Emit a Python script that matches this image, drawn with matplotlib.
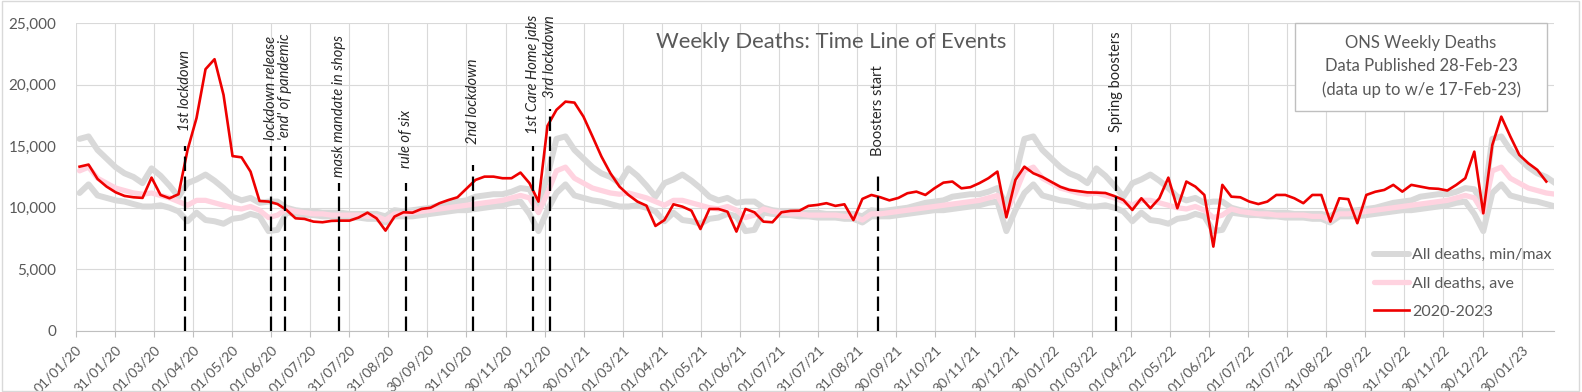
import matplotlib
matplotlib.use("Agg")
import matplotlib.pyplot as plt
from matplotlib.patches import Rectangle
import numpy as np
import pandas as pd

plt.rcParams['font.family'] = ['Lato', 'DejaVu Sans']

# weekly deaths, thousands, one value per week from w/e 03-Jan-20 to w/e 17-Feb-23
deaths = [
    13.34, 13.51, 12.34, 11.72, 11.26, 10.96, 10.85, 10.80, 12.45, 11.04,
    10.77, 11.10, 14.70, 17.30, 21.27, 22.08, 19.18, 14.20, 14.10, 12.94,
    10.55, 10.50, 10.30, 9.82, 9.14, 9.09, 8.87, 8.82, 8.93, 8.95,
    8.95, 9.20, 9.60, 9.14, 8.14, 9.28, 9.63, 9.60, 9.90, 10.00,
    10.37, 10.63, 10.85, 11.55, 12.26, 12.53, 12.53, 12.40, 12.40, 12.86,
    12.00, 10.50, 16.66, 17.96, 18.63, 18.55, 17.41, 15.80, 14.16, 12.80,
    11.72, 11.04, 10.50, 10.17, 8.52, 9.00, 10.28, 10.09, 9.76, 8.27,
    9.90, 9.90, 9.68, 8.06, 9.90, 9.63, 8.87, 8.82, 9.63, 9.74,
    9.76, 10.15, 10.23, 10.37, 10.15, 10.28, 9.00, 10.72, 11.04, 10.85,
    10.60, 10.80, 11.18, 11.31, 11.04, 11.58, 12.04, 12.13, 11.58, 11.67,
    12.00, 12.40, 12.94, 9.22, 12.26, 13.34, 12.80, 12.50, 12.10, 11.70,
    11.45, 11.35, 11.25, 11.23, 11.20, 10.95, 10.63, 9.82, 10.77, 9.96,
    10.77, 12.45, 9.96, 12.13, 11.72, 11.04, 6.84, 11.86, 10.90, 10.85,
    10.50, 10.30, 10.50, 11.04, 11.04, 10.77, 10.37, 11.04, 11.04, 8.87,
    10.77, 10.70, 8.74, 11.04, 11.30, 11.45, 11.86, 11.31, 11.86, 11.72,
    11.58, 11.54, 11.40, 11.86, 12.40, 14.56, 9.55, 15.10, 17.41, 15.80,
    14.30, 13.62, 13.08, 12.13,
]

# 5 year baseline by week number (thousands)
base_max = [
    15.6, 15.8, 14.7, 14.0, 13.3, 12.8, 12.5, 12.0, 13.2, 12.6,
    11.8, 10.9, 12.0, 12.3, 12.7, 12.2, 11.6, 10.9, 10.6, 10.8,
    10.4, 10.5, 10.5, 10.0, 9.8, 9.7, 9.7, 9.6, 9.6, 9.6,
    9.5, 9.5, 9.5, 9.5, 9.3, 9.8, 9.7, 9.8, 9.9, 10.0,
    10.2, 10.4, 10.5, 10.6, 10.9, 11.0, 11.1, 11.1, 11.3, 11.6,
    11.5, 10.2, 12.6,
]
base_min = [
    11.2, 11.9, 11.0, 10.8, 10.6, 10.5, 10.3, 10.1, 10.1, 10.2,
    10.0, 9.7, 8.9, 9.6, 9.0, 8.9, 8.7, 9.1, 9.2, 9.5,
    9.3, 8.1, 8.2, 9.6, 9.5, 9.4, 9.4, 9.3, 9.3, 9.2,
    9.2, 9.2, 9.1, 9.1, 8.8, 9.3, 9.3, 9.3, 9.4, 9.5,
    9.6, 9.7, 9.8, 9.8, 9.9, 10.0, 10.1, 10.2, 10.4, 10.5,
    9.5, 8.1, 9.8,
]
base_ave = [
    13.0, 13.3, 12.4, 12.0, 11.6, 11.4, 11.2, 11.1, 11.2, 11.0,
    10.8, 10.5, 10.2, 10.6, 10.6, 10.4, 10.2, 10.0, 9.9, 10.1,
    9.8, 9.2, 9.4, 9.9, 9.7, 9.6, 9.5, 9.5, 9.4, 9.4,
    9.4, 9.4, 9.3, 9.3, 9.0, 9.5, 9.5, 9.6, 9.7, 9.8,
    9.9, 10.0, 10.1, 10.2, 10.3, 10.4, 10.5, 10.6, 10.8, 11.0,
    10.8, 9.6, 11.2,
]

events = ["1st lockdown", "lockdown release", "'end' of pandemic",
          "mask mandate in shops", "rule of six", "2nd lockdown",
          "1st Care Home jabs", "3rd lockdown", "Boosters start",
          "Spring boosters"]
event_dates = ["2020-03-26", "2020-06-01", "2020-06-12", "2020-07-24",
               "2020-09-14", "2020-11-05", "2020-12-22", "2021-01-04",
               "2021-09-16", "2022-03-20"]
event_tops = [15000, 15000, 15000, 12000, 12000, 13500, 15000, 18000,
              13000, 15000]

tick_labels = [
    "01/01/20", "31/01/20", "01/03/20", "01/04/20", "01/05/20", "01/06/20",
    "01/07/20", "31/07/20", "31/08/20", "30/09/20", "31/10/20", "30/11/20",
    "30/12/20", "30/01/21", "01/03/21", "01/04/21", "01/05/21", "01/06/21",
    "01/07/21", "31/07/21", "31/08/21", "30/09/21", "31/10/21", "30/11/21",
    "30/12/21", "30/01/22", "01/03/22", "01/04/22", "01/05/22", "01/06/22",
    "01/07/22", "31/07/22", "31/08/22", "30/09/22", "31/10/22", "30/11/22",
    "30/12/22", "30/01/23",
]


def by_year(b):
    # 2020 has 53 weeks, 2021 christmas falls in week 51
    return b[:53] + b[:50] + b[51:53] + b[:52] + b[:8]


start = pd.Timestamp("2020-01-01")
weeks = pd.date_range("2020-01-03", periods=165, freq="7D")
xw = (weeks - start).days.values + 1.0

gmax = np.array(by_year(base_max)) * 1000
gmin = np.array(by_year(base_min)) * 1000
gave = np.array(by_year(base_ave)) * 1000
red = np.array(deaths) * 1000

txt = '#595959'
fig = plt.figure(figsize=(15.82, 3.92), dpi=100)
ax = fig.add_axes([0.04785, 0.15638, 0.93445, 0.78418])

ax.plot(xw, gmax, color='#d9d9d9', lw=4.3, solid_capstyle='round', zorder=2,
        label='All deaths, min/max')
ax.plot(xw, gmin, color='#d9d9d9', lw=4.3, solid_capstyle='round', zorder=2)
ax.plot(xw, gave, color='#ffd3e0', lw=3.8, solid_capstyle='round', zorder=3,
        label='All deaths, ave')
ax.plot(xw[:len(red)], red, color='#ee0000', lw=1.9, zorder=4,
        label='2020-2023')

label_gap = [15, 6, 6, 6, 15, 21, 12, 11, 15, 14]
for name, d, top, gap in zip(events, event_dates, event_tops, label_gap):
    xd = (pd.Timestamp(d) - start).days
    ax.plot([xd, xd], [0, top], color='black', lw=1.6, dashes=(6.5, 2.5),
            zorder=5)
    style = 'normal' if name in ("Boosters start", "Spring boosters") else 'italic'
    ax.annotate(name, xy=(xd, top), xytext=(0, gap * 0.72),
                textcoords='offset points', rotation=90, ha='center',
                va='bottom', fontsize=10.5, style=style, color='#262626',
                annotation_clip=False, zorder=6)

ticks = np.arange(len(tick_labels)) * 30.4
ax.set_xticks(ticks)
ax.set_xticklabels(tick_labels, rotation=45, ha='right',
                   rotation_mode='anchor', fontsize=10, color=txt)
ax.set_xlim(0, 1150)
ax.set_ylim(0, 25000)
ax.set_yticks(range(0, 25001, 5000))
ax.set_yticklabels([f"{v:,}" for v in range(0, 25001, 5000)],
                   fontsize=11, color=txt)
ax.tick_params(axis='x', length=4, color='#bfbfbf', pad=5)
ax.tick_params(axis='y', length=0, pad=14)
ax.grid(True, color='#d9d9d9', lw=0.8)
ax.set_axisbelow(True)
for s in ['top', 'right', 'left']:
    ax.spines[s].set_visible(False)
ax.spines['bottom'].set_color('#bfbfbf')

fig.text(0.5257, 0.8936, "Weekly Deaths: Time Line of Events", ha='center',
         va='center', fontsize=15.8, color=txt)

box = Rectangle((1294.8 / 1582, 1 - 111 / 392), (1547.4 - 1294.8) / 1582,
                (111 - 23.3) / 392, transform=fig.transFigure,
                facecolor='white', edgecolor='#bfbfbf', lw=1, zorder=10)
fig.patches.append(box)
info = ["ONS Weekly Deaths", "Data Published 28-Feb-23",
        "(data up to w/e 17-Feb-23)"]
for k, line in enumerate(info):
    fig.text(1421 / 1582, 1 - (42.7 + 23.3 * k) / 392, line, ha='center',
             va='center', fontsize=12, color=txt, zorder=11)

leg = ax.legend(loc='upper left', bbox_to_anchor=(1373.6 / 1582, 1 - 248 / 392),
                bbox_transform=fig.transFigure, frameon=False, fontsize=11.5,
                handlelength=2.2, handletextpad=0.2, labelspacing=0.88,
                borderpad=0, borderaxespad=0)
for t in leg.get_texts():
    t.set_color(txt)

fig.patches.append(Rectangle((0.001, 0.002), 0.997, 0.995,
                             transform=fig.transFigure, fill=False,
                             edgecolor='#d9d9d9', lw=1))

fig.savefig("out.png", dpi=100)
